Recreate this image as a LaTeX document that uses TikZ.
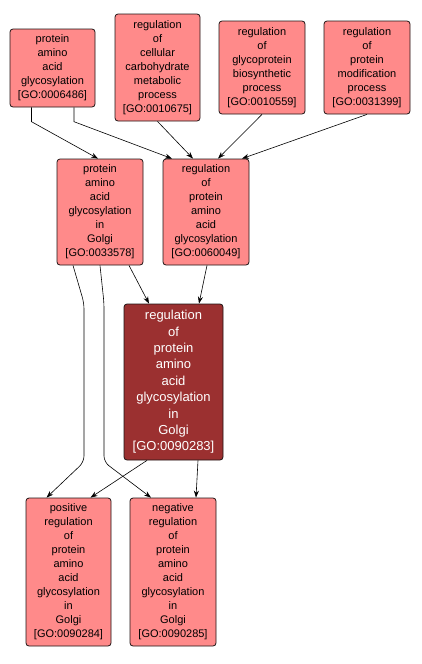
\documentclass[tikz,border=0pt]{standalone}
\usepackage{fontspec}
\setmainfont{Liberation Sans}
\usetikzlibrary{arrows.meta}
\definecolor{lightgo}{RGB}{255,138,138}
\definecolor{darkgo}{RGB}{155,48,48}
\definecolor{edgeblk}{RGB}{30,20,20}
\begin{document}
\begin{tikzpicture}[x=1pt,y=-1pt,
  gobox/.style={draw=edgeblk,line width=0.8pt,rounded corners=3pt,fill=lightgo,
    inner sep=0pt,align=center,font=\fontsize{11}{14}\selectfont,text=black},
  godark/.style={gobox,fill=darkgo,text=white,font=\fontsize{13}{16.4}\selectfont},
  edge/.style={draw=black,line width=0.6pt,-{Stealth[length=7pt,width=5pt]}}]
\useasboundingbox (0,0) rectangle (421,664);
\node[gobox,minimum width=85pt,minimum height=78pt] (A) at (52.5,68) {protein\\amino\\acid\\glycosylation\\{}[GO:0006486]};
\node[gobox,minimum width=85pt,minimum height=107pt] (B) at (157.5,67.5) {regulation\\of\\cellular\\carbohydrate\\metabolic\\process\\{}[GO:0010675]};
\node[gobox,minimum width=86pt,minimum height=93pt] (C) at (262,67.5) {regulation\\of\\glycoprotein\\biosynthetic\\process\\{}[GO:0010559]};
\node[gobox,minimum width=86pt,minimum height=93pt] (D) at (367,67.5) {regulation\\of\\protein\\modification\\process\\{}[GO:0031399]};
\node[gobox,minimum width=86pt,minimum height=106pt] (E) at (100,212) {protein\\amino\\acid\\glycosylation\\in\\Golgi\\{}[GO:0033578]};
\node[gobox,minimum width=86pt,minimum height=106pt] (F) at (206,212) {regulation\\of\\protein\\amino\\acid\\glycosylation\\{}[GO:0060049]};
\node[godark,minimum width=99pt,minimum height=156pt] (G) at (173.5,382) {regulation\\of\\protein\\amino\\acid\\glycosylation\\in\\Golgi\\{}[GO:0090283]};
\node[gobox,minimum width=85pt,minimum height=148pt] (H) at (68.5,572) {positive\\regulation\\of\\protein\\amino\\acid\\glycosylation\\in\\Golgi\\{}[GO:0090284]};
\node[gobox,minimum width=86pt,minimum height=148pt] (I) at (173,572) {negative\\regulation\\of\\protein\\amino\\acid\\glycosylation\\in\\Golgi\\{}[GO:0090285]};
\coordinate (a1) at (31.5,121.7);
\coordinate (a2) at (74,121.7);
\coordinate (e1) at (84,303);
\coordinate (e2) at (84,462);
\coordinate (e3) at (104,303);
\coordinate (e4) at (104,462);
\draw[edge] ([xshift=-21pt]A.south) -- (a1) -- ([xshift=-2pt]E.north);
\draw[edge] ([xshift=21.5pt]A.south) -- (a2) -- ([xshift=-34pt]F.north);
\draw[edge] (B.south) -- ([xshift=-13pt]F.north);
\draw[edge] (C.south) -- ([xshift=12pt]F.north);
\draw[edge] (D.south) -- ([xshift=36pt]F.north);
\draw[edge] ([xshift=29pt]E.south) -- ([xshift=-24.5pt]G.north);
\draw[edge] ([xshift=1pt]F.south) -- ([xshift=25.5pt]G.north);
\draw[edge,rounded corners=6pt] ([xshift=-27pt]E.south) -- (e1) -- (e2) -- ([xshift=-22pt]H.north);
\draw[edge,rounded corners=6pt] (E.south) -- (e3) -- (e4) -- ([xshift=-22pt]I.north);
\draw[edge] ([xshift=-26.5pt]G.south) -- ([xshift=22pt]H.north);
\draw[edge] ([xshift=24.5pt]G.south) -- ([xshift=23pt]I.north);
\end{tikzpicture}
\end{document}
